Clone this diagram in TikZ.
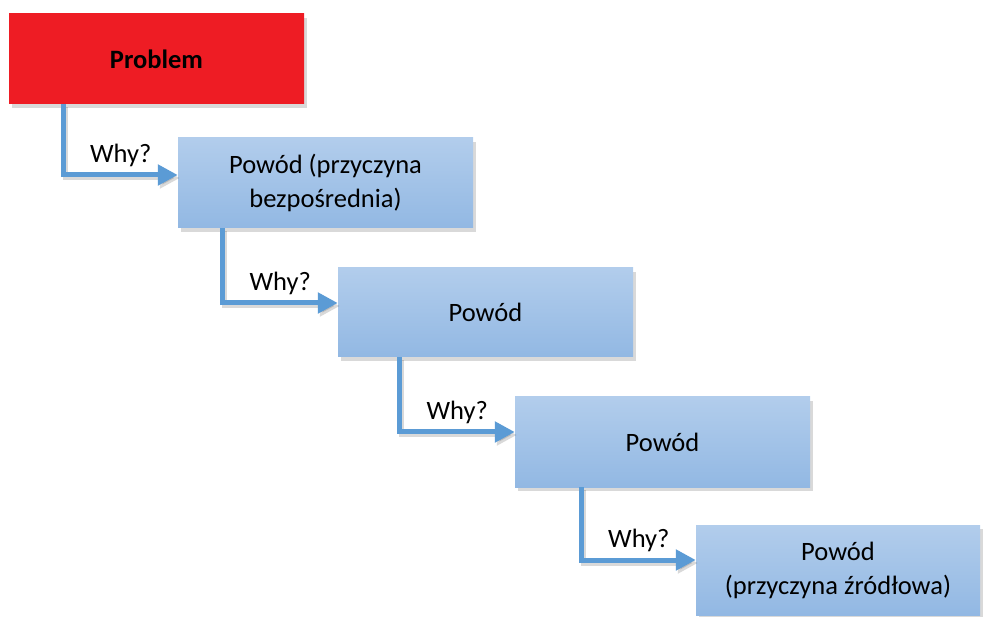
\documentclass[tikz,border=0pt]{standalone}
\usepackage{fontspec}
\setmainfont{Carlito}
\usetikzlibrary{arrows.meta,shadows}
\definecolor{probred}{RGB}{238,28,36}
\definecolor{boxtop}{RGB}{178,205,236}
\definecolor{boxbot}{RGB}{146,184,227}
\definecolor{whyblue}{RGB}{91,155,213}
\begin{document}
\begin{tikzpicture}[x=1pt, y=-1pt,
    font=\fontsize{26.5}{34}\selectfont,
    reason/.style={rectangle, minimum width=295pt, minimum height=90pt, inner sep=0pt, align=center,
        top color=boxtop, bottom color=boxbot,
        drop shadow={shadow xshift=3pt, shadow yshift=-4pt, opacity=0.3}},
    why/.style={draw=whyblue, line width=5pt, -{Triangle[length=20pt,width=20pt]},
        preaction={draw=black, opacity=0.15, line width=5pt, transform canvas={shift={(2pt,-3pt)}}}}]
    \useasboundingbox (0,0) rectangle (983,617);
    \node[reason, fill=probred, top color=probred, bottom color=probred, font=\fontsize{26.5}{34}\selectfont\bfseries] (problem) at (156.5,59) {Problem};
    \node[reason] (r1) at (325.5,183) {Powód (przyczyna\\bezpośrednia)};
    \node[reason, minimum height=89pt] (r2) at (485.5,312.5) {Powód};
    \node[reason] (r3) at (662.5,442) {Powód};
    \node[reason, minimum width=284pt] (r4) at (838,570) {Powód\\(przyczyna źródłowa)};
    \draw[why] ([xshift=55pt]problem.south west) |- node[pos=0.75, above=2pt] {Why?} ([yshift=8pt]r1.west);
    \draw[why] ([xshift=45pt]r1.south west) |- node[pos=0.75, above=2pt] {Why?} ([yshift=9.5pt]r2.west);
    \draw[why] ([xshift=62pt]r2.south west) |- node[pos=0.75, above=2pt] {Why?} ([yshift=10pt]r3.west);
    \draw[why] ([xshift=67pt]r3.south west) |- node[pos=0.75, above=2pt] {Why?} ([yshift=10pt]r4.west);
\end{tikzpicture}
\end{document}
